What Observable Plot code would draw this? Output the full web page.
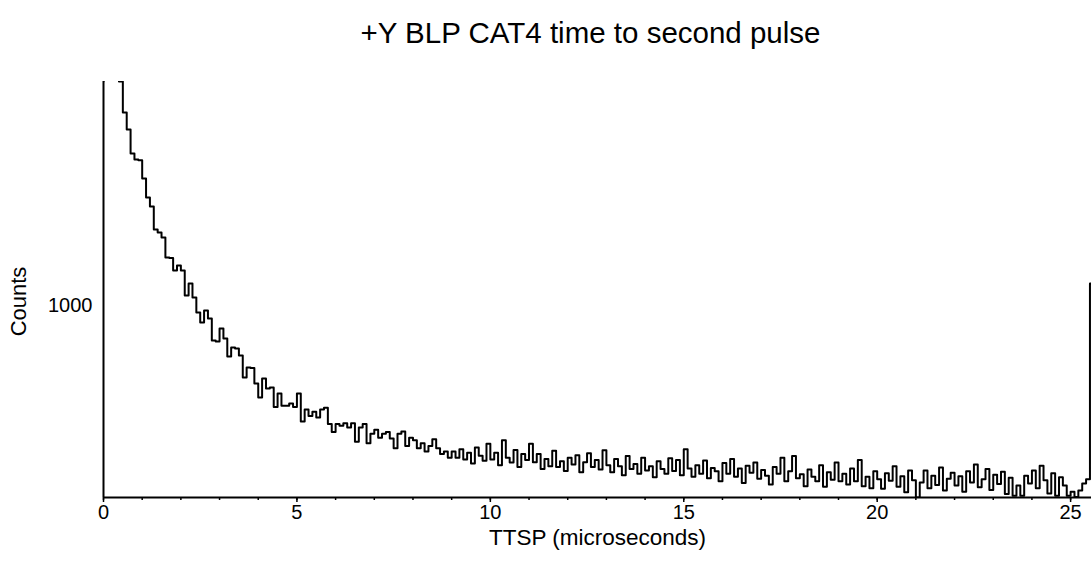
<!DOCTYPE html>
<html><head><meta charset="utf-8">
<script src="https://cdn.jsdelivr.net/npm/d3@7"></script>
<script src="https://cdn.jsdelivr.net/npm/@observablehq/plot@0.6"></script>
<style>html,body{margin:0;padding:0;background:#fff} svg{display:block}</style>
</head><body><div id="chart"></div>
<script>
const title = "+Y BLP CAT4 time to second pulse";
const xLabel = "TTSP (microseconds)";
const yLabel = "Counts";
const binWidth = 0.1; // microseconds per histogram bin
const counts = [
  6538, null, null, null, 6538, 5041, 4372, 3576, 3400, 3380,
  2900, 2472, 2293, 1891, 1844, 1768, 1495, 1490, 1341, 1398,
  1341, 1087, 1202, 1069, 943, 867, 959, 897, 746, 740,
  825, 758, 652, 703, 697, 657, 547, 595, 592, 520,
  462, 542, 499, 503, 427, 478, 432, 432, 440, 427,
  478, 378, 418, 396, 410, 391, 418, 424, 370, 346,
  370, 365, 373, 360, 373, 319, 360, 370, 315, 341,
  353, 330, 341, 346, 328, 302, 341, 348, 308, 330,
  323, 302, 315, 294, 308, 326, 302, 288, 294, 279,
  294, 279, 300, 275, 291, 266, 304, 284, 272, 314,
  275, 291, 262, 323, 279, 268, 298, 258, 288, 274,
  314, 269, 288, 254, 276, 260, 296, 258, 271, 250,
  279, 264, 285, 247, 269, 290, 258, 274, 253, 297,
  262, 247, 276, 260, 241, 283, 254, 265, 244, 279,
  251, 260, 237, 271, 254, 244, 278, 250, 274, 241,
  300, 255, 238, 262, 244, 273, 235, 256, 249, 229,
  267, 244, 276, 238, 255, 226, 261, 246, 268, 234,
  252, 240, 223, 258, 244, 279, 229, 249, 283, 235,
  243, 220, 253, 238, 229, 262, 219, 247, 232, 268,
  229, 244, 223, 255, 229, 274, 220, 238, 216, 249,
  233, 215, 245, 230, 260, 219, 239, 209, 251, 231,
  200, 227, 251, 216, 240, 222, 257, 212, 234, 246,
  221, 239, 210, 249, 227, 264, 218, 233, 254, 213,
  242, 224, 248, 206, 236, 203, 221, 203, 240, 225,
  251, 216, 261, 231, 207, 245, 203, 237, 221, 203,
  210, 201, 212, 225, 233, 1202
];
const xMajorTicks = [0, 5, 10, 15, 20, 25];
const xMinorTicks = [0, 1, 2, 3, 4, 5, 6, 7, 8, 9, 10, 11, 12, 13, 14, 15, 16, 17, 18, 19, 20, 21, 22, 23, 24, 25];
const yTicks = [1000];
const yDomain = [200, 6538];
const xDomain = [0, 25.54];

const data = counts.map((c, i) => ({x: i * binWidth, count: c}));
data.push({x: counts.length * binWidth, count: counts[counts.length - 1]});

const font = "'Liberation Sans', Arial, Helvetica, sans-serif";
const chart = Plot.plot({
  width: 1091, height: 579,
  marginLeft: 103, marginRight: 0, marginTop: 81, marginBottom: 82,
  style: {fontFamily: font, background: "white", color: "black", overflow: "visible"},
  x: {domain: xDomain},
  y: {type: "log", domain: yDomain},
  marks: [
    Plot.axisX(xMinorTicks, {tickSize: 3, tickFormat: () => "", strokeWidth: 1.5, label: null}),
    Plot.axisX(xMajorTicks, {tickSize: 5, tickFormat: () => "", strokeWidth: 1.5, label: null}),
    Plot.axisX(xMajorTicks, {tickSize: 0, tickPadding: 7, fontSize: 20, label: null, tickFormat: d => String(d)}),
    Plot.axisY(yTicks, {tickSize: 0, tickPadding: 11, fontSize: 20, label: null, tickFormat: d => String(d)}),
    Plot.ruleX([xDomain[0]], {stroke: "black", strokeWidth: 2}),
    Plot.ruleY([yDomain[0]], {stroke: "black", strokeWidth: 2}),
    Plot.line(data, {x: "x", y: "count", curve: "step-after", stroke: "black", strokeWidth: 2, clip: true}),
    Plot.text([title], {text: d => d, frameAnchor: "top", lineAnchor: "middle", textAnchor: "middle", dy: -48, dx: -7, fontSize: 29.5}),
    Plot.text([xLabel], {text: d => d, frameAnchor: "bottom", lineAnchor: "middle", textAnchor: "middle", dy: 40, fontSize: 22.5}),
    Plot.text([yLabel], {text: d => d, frameAnchor: "left", lineAnchor: "middle", textAnchor: "middle", dx: -85, dy: 12, rotate: -90, fontSize: 22})
  ]
});
document.getElementById("chart").appendChild(chart);
</script>
</body></html>
